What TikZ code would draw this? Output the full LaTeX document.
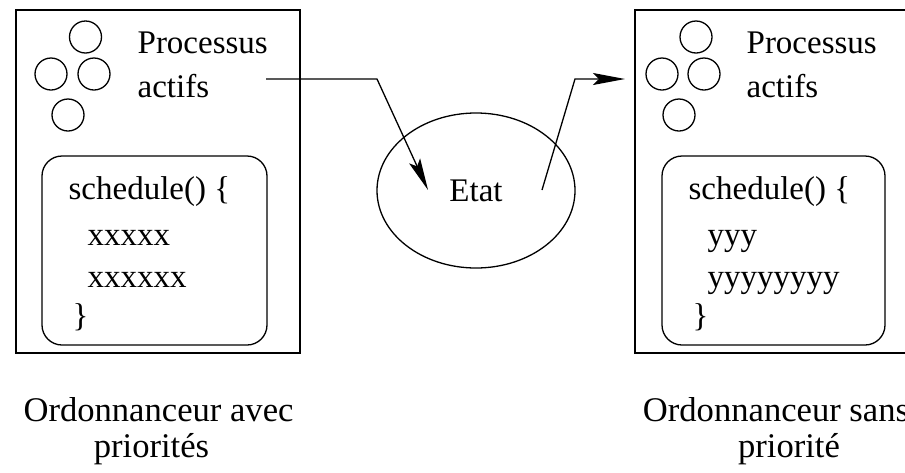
\documentclass[tikz,border=0pt]{standalone}
\usepackage{fontspec}
\setmainfont{Liberation Serif}
\usetikzlibrary{arrows.meta,shapes.geometric,positioning}

\begin{document}
\begin{tikzpicture}[x=0.5pt, y=-0.5pt, line width=0.65pt,
    every node/.style={font=\fontsize{16.5}{18}\selectfont, inner sep=0pt},
    txt/.style={anchor=base west},
    legend/.style={anchor=base, font=\fontsize{17.3}{18}\selectfont},
    proc/.style={shape=circle, draw=black, minimum size=16pt},
    frame/.style={draw=black, minimum height=171.5pt},
    sched/.style={draw=black, rounded corners=10pt, minimum height=94.5pt},
    arr/.style={-{Stealth[length=16pt, width=6pt, inset=3pt]}}]
  \useasboundingbox (0,0) rectangle (905,472);

  % scheduler with priorities
  \node[frame, minimum width=142pt] (Left) at (158,181.5) {};
  \node[proc] (LP1) at (85.5,37) {};
  \node[proc] (LP2) at (51,74) {};
  \node[proc] (LP3) at (94,74) {};
  \node[proc] (LP4) at (68,115) {};
  \node[txt] (LProc) at (137,53) {Processus};
  \node[txt] (LActifs) at (137,97) {actifs};
  \node[sched, minimum width=112.5pt] (LSched) at (154.5,250.5) {};
  \node[txt] (LCode1) at (68,199) {schedule() \{};
  \node[txt] (LCode2) at (87,245) {xxxxx};
  \node[txt] (LCode3) at (87,287) {xxxxxx};
  \node[txt] (LCode4) at (72,326) {\}};
  \node[legend] (LCap1) at (158.5,421) {Ordonnanceur avec};
  \node[legend] (LCap2) at (151.5,457) {priorités};

  % state
  \node[shape=ellipse, draw=black, minimum width=99pt, minimum height=77.5pt]
       (Etat) at (476,190.5) {Etat};

  % scheduler without priority
  \node[frame, minimum width=142pt] (Right) at (777,181.5) {};
  \node[proc] (RP1) at (696,37) {};
  \node[proc] (RP2) at (662,74) {};
  \node[proc] (RP3) at (704,74) {};
  \node[proc] (RP4) at (679,115) {};
  \node[txt] (RProc) at (746,53) {Processus};
  \node[txt] (RActifs) at (746,97) {actifs};
  \node[sched, minimum width=111.5pt] (RSched) at (773.5,250.5) {};
  \node[txt] (RCode1) at (688,199) {schedule() \{};
  \node[txt] (RCode2) at (707,245) {yyy};
  \node[txt] (RCode3) at (707,287) {yyyyyyyy};
  \node[txt] (RCode4) at (692,326) {\}};
  \node[legend] (RCap1) at (776,421) {Ordonnanceur sans};
  \node[legend] (RCap2) at (789,457) {priorité};

  % arrows
  \coordinate (Out1) at (266,79);
  \coordinate (Bend1) at (377,79);
  \coordinate (In1) at (428,190);
  \coordinate (Out2) at (542,190);
  \coordinate (Bend2) at (575,79);
  \coordinate (In2) at (625,79);
  \draw[arr] (Out1) -- (Bend1) -- (In1);
  \draw[arr] (Out2) -- (Bend2) -- (In2);
\end{tikzpicture}
\end{document}
